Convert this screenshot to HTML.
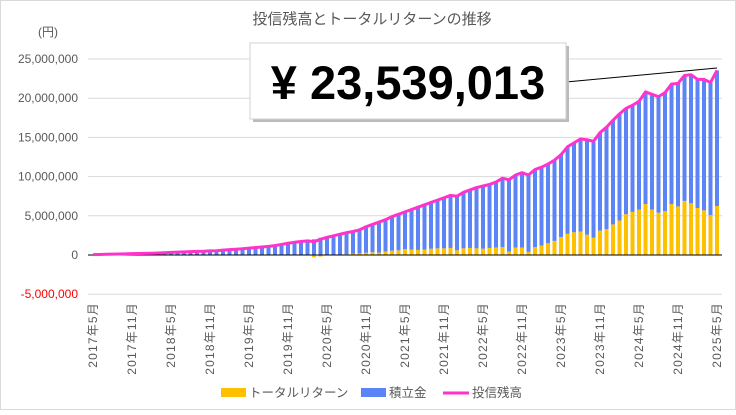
<!DOCTYPE html>
<html><head><meta charset="utf-8"><style>
body{margin:0;background:#fff}
svg text{font-family:"Liberation Sans","Noto Sans CJK JP",sans-serif}
</style></head><body>
<svg id="chart" width="736" height="410" xmlns="http://www.w3.org/2000/svg">
<rect x="0.5" y="0.5" width="735" height="409" fill="#fff" stroke="#d9d9d9"/>
<text x="372" y="24" font-size="15" fill="#595959" text-anchor="middle">投信残高とトータルリターンの推移</text>
<text x="38" y="36" font-size="12" fill="#595959">(円)</text>
<g id="grid"></g><g id="bars"></g><g id="line"></g><g id="xlabels"></g>
<line x1="566" y1="82" x2="717" y2="68" stroke="#000" stroke-width="1"/>
<rect x="253" y="46" width="316" height="76" fill="#bbb"/>
<rect x="250" y="43" width="316" height="76" fill="#fff" stroke="#d0d0d0"/>
<text x="408" y="99" font-size="47" font-weight="bold" text-anchor="middle" fill="#000">¥ 23,539,013</text>
<g>
<rect x="221" y="388" width="25" height="9" fill="#ffc000"/>
<text x="249" y="397" font-size="12.5" fill="#595959">トータルリターン</text>
<rect x="361" y="388" width="25" height="9" fill="#5b84f7"/>
<text x="389" y="397" font-size="12.5" fill="#595959">積立金</text>
<line x1="443" y1="393" x2="469" y2="393" stroke="#ff33cc" stroke-width="3"/>
<text x="472" y="397" font-size="12.5" fill="#595959">投信残高</text>
</g>
</svg>
<script>
const totals=[.05,.07,.09,.11,.13,.15,.17,.19,
.21,.23,.26,.29,.33,.37,.40,.43,.46,.48,.52,.55,
.62,.68,.74,.80,.88,.95,1.02,1.10,1.20,1.35,1.50,1.62,
1.72,1.80,1.70,2.00,2.25,2.45,2.65,2.85,3.00,3.20,3.60,3.90,
4.20,4.50,4.90,5.20,5.50,5.80,6.10,6.40,6.70,7.00,7.30,7.60,
7.50,8.00,8.30,8.60,8.80,9.00,9.30,9.80,9.60,10.20,10.50,10.20,
10.90,11.20,11.60,12.10,12.80,13.80,14.30,14.80,14.70,14.50,15.60,16.30,
17.20,18.00,18.70,19.10,19.60,20.80,20.50,20.20,20.70,21.80,21.90,22.90,
23.00,22.40,22.40,22.00,23.539013];
const returns=[0,0,0,0,0.01,0.01,0.01,0.02,
0.02,0.01,0,-0.02,-0.03,0.01,0.01,0,-0.04,-0.05,-0.03,-0.02,
-0.03,-0.01,0,-0.02,0.02,0.03,0.02,0.04,0.05,0.03,0.06,0.05,
0.02,0.01,-0.3,-0.2,-0.05,0.02,0.05,0.1,0.15,0.2,0.3,0.35,
0.3,0.45,0.55,0.6,0.75,0.7,0.65,0.7,0.8,0.85,0.85,0.9,
0.6,0.85,0.9,0.85,0.8,0.9,0.95,1.0,0.45,0.95,0.95,0.4,
1.0,1.2,1.5,1.8,2.3,2.7,2.9,3.0,2.6,2.2,3.1,3.3,
3.9,4.4,5.2,5.5,5.8,6.5,5.8,5.4,5.6,6.5,6.2,6.9,
6.6,6.0,5.7,5.1,6.25];
const yTicks=[25,20,15,10,5,0,-5];
const yTickLabels=["25,000,000","20,000,000","15,000,000","10,000,000","5,000,000","0","-5,000,000"];
const startYear=2017,startMonth=5;
const NS="http://www.w3.org/2000/svg";
const x=i=>93+i*(624/(totals.length-1));
const y=v=>255-v*7.84;
function mk(tag,attrs,parent){const e=document.createElementNS(NS,tag);for(const k in attrs)e.setAttribute(k,attrs[k]);parent.appendChild(e);return e;}
const grid=document.getElementById('grid');
yTicks.forEach((t,k)=>{
 if(t!==0){const l=mk('line',{x1:88,x2:722,y1:y(t),y2:y(t),stroke:'#d9d9d9','stroke-width':1},grid);
 
 }
 const tx=mk('text',{x:78,y:y(t)+4,'font-size':12,'text-anchor':'end',fill:t<0?'#ff0000':'#595959'},grid);
 
 
 tx.textContent=yTickLabels[k];
});
const bars=document.getElementById('bars');
totals.forEach((T,i)=>{
 const R=returns[i],P=T-R,bw=4,bx=x(i)-bw/2;
 const base=Math.max(R,0);
 if(R!==0){const r=mk('rect',{x:bx,width:bw,y:y(Math.max(R,0)),height:Math.abs(R)*7.84,fill:'#ffc000'},bars);
 
 }
 const b=mk('rect',{x:bx,width:bw,y:y(base+P),height:P*7.84,fill:'#5b84f7'},bars);
 
 
});
const zl=mk('line',{x1:88,x2:722,y1:y(0),y2:y(0),stroke:'#000','stroke-width':1},bars);


const pl=mk('polyline',{points:totals.map((T,i)=>x(i)+','+y(T)).join(' '),fill:'none',stroke:'#ff33cc','stroke-width':3,'stroke-linejoin':'round'},document.getElementById('line'));


const xl=document.getElementById('xlabels');
for(let i=0;i<totals.length;i+=6){
 const m=startMonth-1+i,yr=startYear+Math.floor(m/12),mo=m%12+1;
 const t=mk('text',{transform:`translate(${x(i)+4},302) rotate(-90)`,'font-size':12,'letter-spacing':'1.2','text-anchor':'end',fill:'#595959'},xl);
 
 
 t.textContent=yr+'年'+mo+'月';
}
</script>
</body></html>
